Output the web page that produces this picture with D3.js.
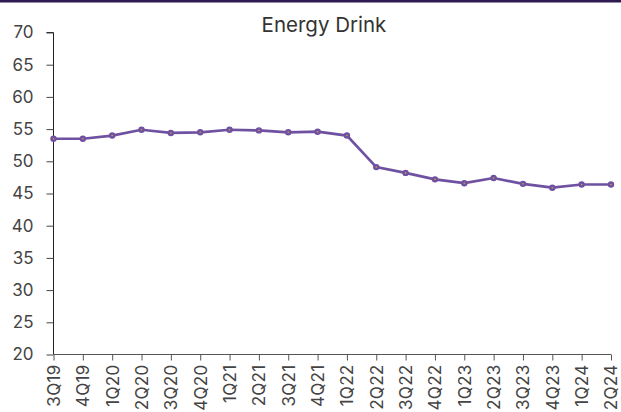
<!DOCTYPE html>
<html><head><meta charset="utf-8">
<script src="https://cdn.jsdelivr.net/npm/d3@7"></script>
<style>body{margin:0;background:#fff;}svg{display:block;}</style>
</head><body>
<svg id="c" width="621" height="412"></svg>
<script>
const categories = ["3Q19","4Q19","1Q20","2Q20","3Q20","4Q20","1Q21","2Q21","3Q21","4Q21","1Q22","2Q22","3Q22","4Q22","1Q23","2Q23","3Q23","4Q23","1Q24","2Q24"];
const values = [53.5,53.5,54.0,54.9,54.4,54.5,54.9,54.8,54.5,54.6,54.0,49.1,48.2,47.2,46.6,47.4,46.5,45.9,46.4,46.4];
const yTicks = [20,25,30,35,40,45,50,55,60,65,70];
const title = "Energy Drink";

const svg = d3.select("#c");
const font = "Inter, 'Open Sans', sans-serif";
svg.append("rect").attr("x",0).attr("y",0).attr("width",621).attr("height",2.5).attr("fill","#2e1a52");

const x = d3.scalePoint().domain(categories).range([53.5, 611]);
const y = d3.scaleLinear().domain([20,70]).range([354.5, 32.5]);

const yAxis = svg.append("g").attr("transform","translate(53.5,0)")
  .call(d3.axisLeft(y).tickValues(yTicks).tickSize(7).tickPadding(13).tickFormat(d3.format("d")));
yAxis.select(".domain").attr("stroke","#222").attr("d","M-7,32.5H0V354.5");
yAxis.selectAll(".tick line").attr("stroke","#444");
yAxis.selectAll(".tick text").attr("font-family",font).attr("font-size",17).attr("fill","#444");

const xAxis = svg.append("g").attr("transform","translate(0,354.5)")
  .call(d3.axisBottom(x).tickSize(6).tickSizeOuter(0).tickPadding(4));
xAxis.select(".domain").attr("stroke","#555").attr("d","M53.5,0H611");
xAxis.selectAll(".tick line").attr("stroke","#555");
xAxis.selectAll(".tick text").attr("font-family",font).attr("font-size",17).attr("letter-spacing","0.3px").attr("fill","#444")
  .attr("transform","rotate(-90)").attr("text-anchor","end").attr("dy","0.35em").attr("x",-10).attr("y",0);

svg.append("text").attr("x",324).attr("y",32).attr("text-anchor","middle")
  .attr("font-family",font).attr("font-size",20.5).attr("fill","#333").text(title);

const data = categories.map((c,i)=>({c,v:values[i]}));
svg.append("path").datum(data).attr("fill","none").attr("stroke","#6f51a1").attr("stroke-width",2.7)
  .attr("d",d3.line().x(d=>x(d.c)).y(d=>y(d.v)));
svg.append("g").selectAll("circle").data(data).join("circle")
  .attr("cx",d=>x(d.c)).attr("cy",d=>y(d.v)).attr("r",3.2).attr("fill","#6f51a1");
svg.append("g").selectAll("circle").data(data).join("circle")
  .attr("cx",d=>x(d.c)).attr("cy",d=>y(d.v)).attr("r",0.8).attr("fill","#d9a040");
</script>
</body></html>
